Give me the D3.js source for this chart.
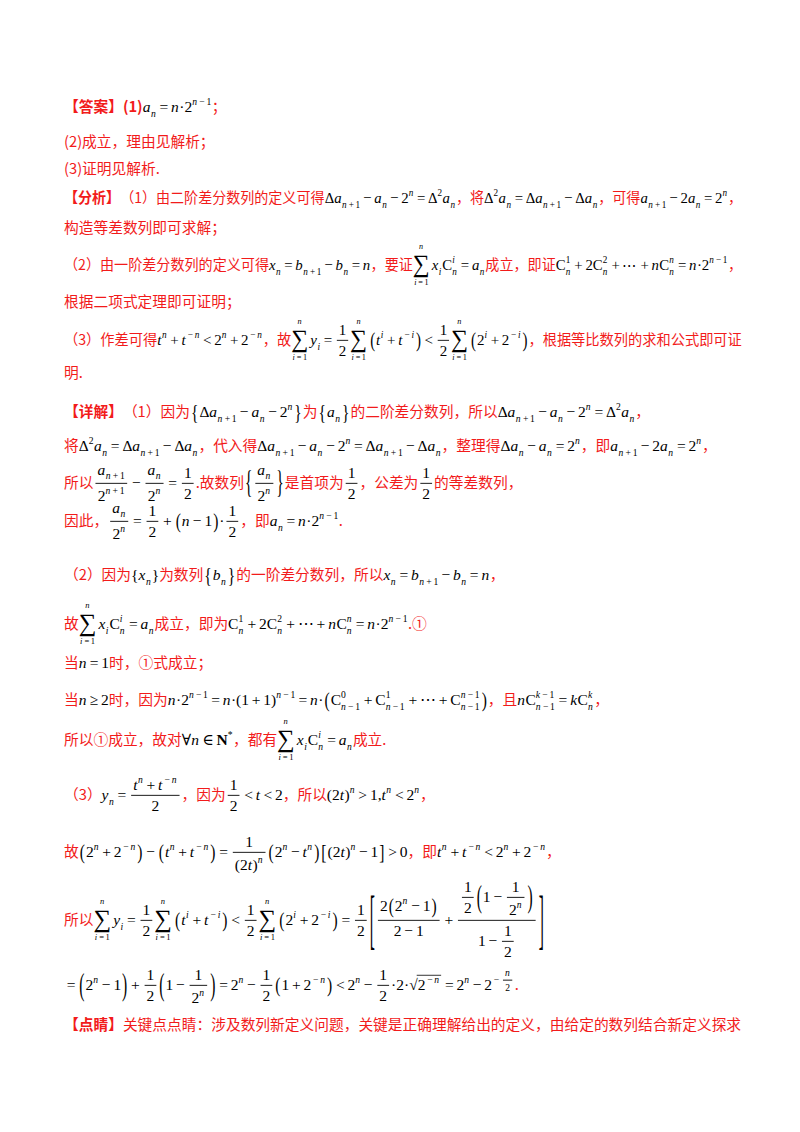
<!DOCTYPE html><html><head><meta charset="utf-8">
<script src="https://cdn.jsdelivr.net/npm/d3@7"></script>
<style>body{margin:0;background:#fff}</style></head><body>
<svg id="c" width="800" height="1132"></svg>
<script>
const lineTexts = [
String.raw`\R{【答案】(1)}a_n=n·2^{n−1}\r{；}`,
String.raw`\r{(2)成立，理由见解析；}`,
String.raw`\r{(3)证明见解析.}`,
String.raw`\R{【分析】}\r{（1）由二阶差分数列的定义可得}Δa_{n+1}−a_n−2^n=Δ^2a_n\r{，将}Δ^2a_n=Δa_{n+1}−Δa_n\r{，可得}a_{n+1}−2a_n=2^n\r{，}`,
String.raw`\r{构造等差数列即可求解；}`,
String.raw`\r{（2）由一阶差分数列的定义可得}x_n=b_{n+1}−b_n=n\r{，要证}\s{n}{i=1}x_iC_n^i=a_n\r{成立，即证}C_n^1+2C_n^2+⋯+nC_n^n=n·2^{n−1}\r{，}`,
String.raw`\r{根据二项式定理即可证明；}`,
String.raw`\r{（3）作差可得}t^n+t^{−n}<2^n+2^{−n}\r{，故}\s{n}{i=1}y_i=\f{1}{2}\s{n}{i=1}\B(t^i+t^{−i}\B)<\f{1}{2}\s{n}{i=1}\B(2^i+2^{−i}\B)\r{，根据等比数列的求和公式即可证}`,
String.raw`\r{明.}`,
String.raw`\R{【详解】}\r{（1）因为}\B‹Δa_{n+1}−a_n−2^n\B›\r{为}\B‹a_n\B›\r{的二阶差分数列，所以}Δa_{n+1}−a_n−2^n=Δ^2a_n\r{，}`,
String.raw`\r{将}Δ^2a_n=Δa_{n+1}−Δa_n\r{，代入得}Δa_{n+1}−a_n−2^n=Δa_{n+1}−Δa_n\r{，整理得}Δa_n−a_n=2^n\r{，即}a_{n+1}−2a_n=2^n\r{，}`,
String.raw`\r{所以}\f{a_{n+1}}{2^{n+1}}−\f{a_n}{2^n}=\f{1}{2}\r{.故数列}\H‹\f{a_n}{2^n}\H›\r{是首项为}\f{1}{2}\r{，公差为}\f{1}{2}\r{的等差数列，}`,
String.raw`\r{因此，}\f{a_n}{2^n}=\f{1}{2}+\B(n−1\B)·\f{1}{2}\r{，即}a_n=n·2^{n−1}\r{.}`,
String.raw`\r{（2）因为}‹x_n›\r{为数列}\B‹b_n\B›\r{的一阶差分数列，所以}x_n=b_{n+1}−b_n=n\r{，}`,
String.raw`\r{故}\s{n}{i=1}x_iC_n^i=a_n\r{成立，即为}C_n^1+2C_n^2+⋯+nC_n^n=n·2^{n−1}\r{.①}`,
String.raw`\r{当}n=1\r{时，①式成立；}`,
String.raw`\r{当}n≥2\r{时，因为}n·2^{n−1}=n·(1+1)^{n−1}=n·\B(C_{n−1}^0+C_{n−1}^1+⋯+C_{n−1}^{n−1}\B)\r{，且}nC_{n−1}^{k−1}=kC_n^k\r{，}`,
String.raw`\r{所以①成立，故对}∀n∈\k{N}^*\r{，都有}\s{n}{i=1}x_iC_n^i=a_n\r{成立.}`,
String.raw`\r{（3）}y_n=\f{t^n+t^{−n}}{2}\r{，因为}\f{1}{2}<t<2\r{，所以}(2t)^n>1,t^n<2^n\r{，}`,
String.raw`\r{故}\B(2^n+2^{−n}\B)−\B(t^n+t^{−n}\B)=\f{1}{(2t)^n}\B(2^n−t^n\B)\B[(2t)^n−1\B]>0\r{，即}t^n+t^{−n}<2^n+2^{−n}\r{，}`,
String.raw`\r{所以}\s{n}{i=1}y_i=\f{1}{2}\s{n}{i=1}\B(t^i+t^{−i}\B)<\f{1}{2}\s{n}{i=1}\B(2^i+2^{−i}\B)=\f{1}{2}\X[\f{2\B(2^n−1\B)}{2−1}+\f{\f{1}{2}\H(1−\f{1}{2^n}\H)}{1−\f{1}{2}}\X]`,
String.raw`=\H(2^n−1\H)+\f{1}{2}\H(1−\f{1}{2^n}\H)=2^n−\f{1}{2}\B(1+2^{−n}\B)<2^n−\f{1}{2}·2·\q{2^{−n}}=2^n−2^{−\f{n}{2}}\r{.}`,
String.raw`\R{【点睛】}\r{关键点点睛：涉及数列新定义问题，关键是正确理解给出的定义，由给定的数列结合新定义探求}`
];
const baselines = [112,147,174,203,233,270,307,345,378,417,451,488,526,580,629,668,705,745,800,857,925,990,1030];

const RED="#f21b1b", CJK="'Noto Sans CJK SC'", SERIF="'Liberation Serif','DejaVu Serif',serif";
const svg=d3.select("#c");

function parse(s){
  let i=0;
  function group(){
    if(s[i]==='{'){i++;let st=i,d=1;while(i<s.length&&d){if(s[i]==='{')d++;else if(s[i]==='}')d--;i++;}return s.slice(st,i-1);}
    return s[i++];
  }
  const out=[];
  while(i<s.length){
    const c=s[i];
    if(c==='\\'){const cmd=s[i+1];i+=2;
      if(cmd==='f'){const a=group(),b=group();out.push({t:'frac',n:parse(a),d:parse(b)});}
      else if(cmd==='s'){const a=group(),b=group();out.push({t:'sum',top:parse(a),bot:parse(b)});}
      else if(cmd==='q'){out.push({t:'sqrt',c:parse(group())});}
      else if(cmd==='r'){out.push({t:'red',s:group(),b:false});}
      else if(cmd==='R'){out.push({t:'red',s:group(),b:true});}
      else if(cmd==='k'){out.push({t:'bold',s:group()});}
      else if(cmd==='B'||cmd==='H'||cmd==='X'){let ch=s[i++];out.push({t:'big',ch:ch==='‹'?'{':ch==='›'?'}':ch,k:cmd==='B'?1.35:cmd==='H'?2.1:4.2});}
    } else if(c==='_'){i++;out.push({t:'sub',c:parse(group())});}
    else if(c==='^'){i++;out.push({t:'sup',c:parse(group())});}
    else {out.push({t:'ch',ch:c==='‹'?'{':c==='›'?'}':c});i++;}
  }
  return out;
}

function txt(p,str,x,y,fs,o){
  const t=p.append("text").attr("x",x).attr("y",y).attr("font-size",fs).text(str)
    .attr("font-family",o.fam||SERIF).attr("fill",o.fill||"#000");
  if(o.it)t.attr("font-style","italic");
  if(o.b)t.attr("font-weight","bold");
  return t;
}
function render(p,nodes,x0,y,fs){
  let x=x0, scriptX=null;
  nodes.forEach(n=>{
    if(n.t==='sub'||n.t==='sup'){
      let sx=x;
      if(n.t==='sup'&&scriptX!==null){sx=scriptX;}
      const w=render(p,n.c,sx,y+(n.t==='sub'?0.3*fs:-0.45*fs),fs*0.62);
      if(n.t==='sub'){scriptX=x;x+=w;}
      else{ if(scriptX!==null){x=Math.max(x,sx+w);}else x+=w; scriptX=null;}
      x+=0.5;return;
    }
    scriptX=null;
    if(n.t==='ch'){
      const c=n.ch, op="=<>+−≥∈,".includes(c);
      const it=/[a-z]/.test(c);
      const pad=op?(c===','?0:0.18*fs):0;
      const t=txt(p,c,x+pad,y,fs,{it});
      x+=t.node().getComputedTextLength()+2*pad+(it?0.5:0);
    } else if(n.t==='red'){
      const t=txt(p,n.s,x,y,fs*0.95,{fam:CJK,fill:RED,b:n.b});
      x+=t.node().getComputedTextLength();
    } else if(n.t==='bold'){
      const t=txt(p,n.s,x,y,fs,{b:true});x+=t.node().getComputedTextLength();
    } else if(n.t==='big'){
      const cy=y-0.32*fs;
      const g=p.append("g").attr("transform",`translate(0,${cy}) scale(1,${n.k}) translate(0,${-cy})`);
      const t=txt(g,n.ch,x+1,y,fs,{});x+=t.node().getComputedTextLength()+2;
    } else if(n.t==='frac'){
      const g1=p.append("g"),g2=p.append("g");
      const wn=render(g1,n.n,0,0,fs),wd=render(g2,n.d,0,0,fs);
      const W=Math.max(wn,wd)+4, bar=y-0.3*fs;
      const bn=g1.node().getBBox(), bd=g2.node().getBBox();
      g1.attr("transform",`translate(${x+2+(W-wn)/2},${bar-2-(bn.y+bn.height)})`);
      g2.attr("transform",`translate(${x+2+(W-wd)/2},${bar+2-bd.y})`);
      p.append("line").attr("x1",x+2).attr("x2",x+2+W).attr("y1",bar).attr("y2",bar).attr("stroke","#000").attr("stroke-width",0.9);
      x+=W+4;
    } else if(n.t==='sum'){
      const t=txt(p,"∑",x,y+0.15*fs,fs*1.6,{});const w=t.node().getComputedTextLength();
      const bb=t.node().getBBox();
      const gt=p.append("g"),gb=p.append("g");
      const wt=render(gt,n.top,0,0,fs*0.55),wb=render(gb,n.bot,0,0,fs*0.55);
      gt.attr("transform",`translate(${x+(w-wt)/2},${bb.y-1})`);
      gb.attr("transform",`translate(${x+(w-wb)/2},${bb.y+bb.height+fs*0.45})`);
      x+=w+2;
    } else if(n.t==='sqrt'){
      const t=txt(p,"√",x,y,fs,{});const w=t.node().getComputedTextLength();
      const w2=render(p,n.c,x+w,y,fs);
      p.append("line").attr("x1",x+w-1).attr("x2",x+w+w2+1).attr("y1",y-fs*0.95).attr("y2",y-fs*0.95).attr("stroke","#000").attr("stroke-width",0.8);
      x+=w+w2+2;
    }
  });
  return x-x0;
}

const X0=64, MAXW=678, FS=15.5;
lineTexts.forEach((s,i)=>{
  const g=svg.append("g");
  const w=render(g,parse(s),0,0,FS);
  const k=w>MAXW?MAXW/w:1;
  g.attr("transform",`translate(${X0},${baselines[i]}) scale(${k},1)`);
});
</script></body></html>
